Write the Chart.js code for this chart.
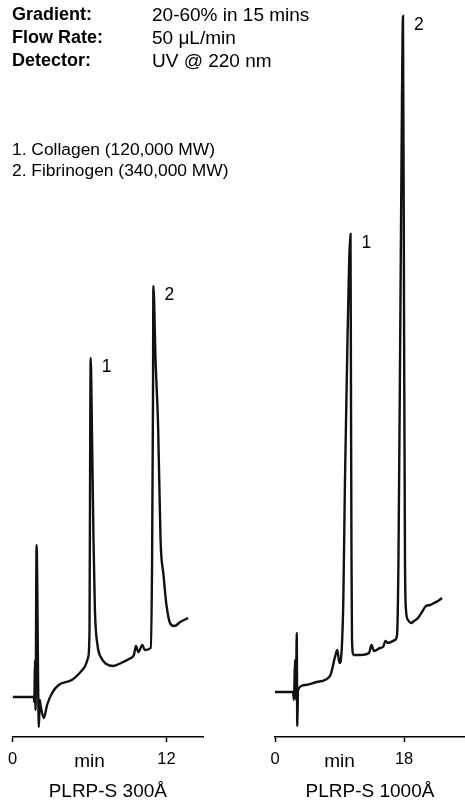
<!DOCTYPE html>
<html>
<head>
<meta charset="utf-8">
<script src="https://cdn.jsdelivr.net/npm/chart.js@4.4.1/dist/chart.umd.min.js"></script>
<style>
  body { margin:0; background:#fff; width:465px; height:801px; overflow:hidden; position:relative;
         font-family:"Liberation Sans", Arial, Helvetica, sans-serif; color:#000; }
  canvas { position:absolute; top:0; }
  #left { left:0; }
  #right { left:232px; }
  .info { position:absolute; line-height:23px; white-space:nowrap; z-index:2; }
  #labels { left:12px; top:3px; font-weight:bold; font-size:18px; }
  #values { left:152px; top:3px; font-size:19px; }
  #compounds { position:absolute; left:12px; top:139px; font-size:17.4px; line-height:21px; white-space:nowrap; z-index:2; }
</style>
</head>
<body>
<div class="info" id="labels">Gradient:<br>Flow Rate:<br>Detector:</div>
<div class="info" id="values">20-60% in 15 mins<br>50 μL/min<br>UV @ 220 nm</div>
<div id="compounds">1. Collagen (120,000 MW)<br>2. Fibrinogen (340,000 MW)</div>
<canvas id="left" width="232" height="801"></canvas>
<canvas id="right" width="233" height="801"></canvas>
<script>
// retention time (min) and detector signal
const leftTime = [0.00, 1.65, 1.69, 1.75, 1.79, 1.87, 2.05, 2.12, 2.19, 2.44, 2.69, 3.08, 3.59, 4.62, 5.23, 5.62, 5.90,
  6.00, 6.05, 6.09, 6.19, 6.31, 6.42, 6.62, 6.92, 7.31, 7.85, 8.46, 9.08, 9.46, 9.62, 9.81, 10.12, 10.31, 10.77,
  10.88, 10.95, 10.98, 11.15, 11.35, 11.54, 11.77, 12.00, 12.31, 12.62, 13.08, 13.69];
const leftSignal = [4.0, 4.0, 3.5, 7.7, 2.7, 19.2, 1.0, 3.7, 3.1, 1.9, 3.2, 4.4, 5.2, 5.7, 6.4, 7.0, 8.0,
  10.7, 28.7, 37.9, 30.7, 19.7, 12.7, 9.2, 7.9, 7.3, 7.1, 7.4, 7.8, 8.2, 9.1, 8.5, 9.2, 8.7, 8.9,
  17.7, 33.7, 45.1, 37.7, 31.0, 19.7, 16.2, 13.2, 11.3, 11.1, 11.5, 11.9];

const rightTime = [0.00, 2.51, 2.65, 2.79, 2.93, 3.03, 3.11, 3.21, 4.18, 5.82, 7.67, 8.37, 8.69, 9.00, 9.30,
  9.53, 9.76, 10.11, 10.53, 10.60, 10.67, 10.74, 10.95, 11.85, 13.11, 13.46, 13.81, 14.64, 15.06, 15.41, 15.76,
  16.74, 17.02, 17.22, 17.50, 17.71, 17.85, 17.99, 18.13, 18.27, 18.55, 18.97, 19.39, 19.94, 20.50, 21.06,
  21.62, 22.18, 22.73, 23.29];
const rightSignal = [4.5, 4.5, 3.7, 7.7, 3.7, 10.4, 1.1, 4.7, 5.2, 5.5, 6.1, 8.0, 8.7, 7.4, 8.7,
  13.7, 25.7, 39.7, 50.3, 33.7, 17.7, 9.7, 8.2, 8.2, 8.4, 9.2, 8.6, 8.9, 9.0, 9.6, 9.4,
  9.7, 10.2, 17.7, 43.7, 63.7, 72.1, 43.7, 17.7, 12.7, 11.7, 11.4, 11.6, 11.9, 12.5, 13.1,
  13.2, 13.4, 13.6, 13.9];

const leftTicks = [0, 6, 12];
const leftTickLabels = ['0', 'min', '12'];
const rightTicks = [0, 9, 18];
const rightTickLabels = ['0', 'min', '18'];

const peakNames = ['1', '2'];
const leftPeakTimes = [6.09, 10.98];
const rightPeakTimes = [10.53, 17.85];

const FONT = '"Liberation Sans", Arial, Helvetica, sans-serif';

// writes the peak number beside the top of each peak
const peakLabels = {
  id: 'peakLabels',
  afterDatasetsDraw(chart, args, opts) {
    const ctx = chart.ctx;
    const pts = chart.data.datasets[0].data;
    const xs = chart.scales.x, ys = chart.scales.y;
    ctx.save();
    ctx.font = '17.5px ' + FONT;
    ctx.fillStyle = '#000';
    ctx.textAlign = 'left';
    ctx.textBaseline = 'alphabetic';
    opts.times.forEach((t, i) => {
      let best = null;
      pts.forEach(p => {
        if (Math.abs(p.x - t) < 0.2 && (!best || p.y > best.y)) best = p;
      });
      if (!best) return;
      ctx.fillText(opts.names[i], xs.getPixelForValue(best.x) + 11, ys.getPixelForValue(best.y) + 13.5);
    });
    ctx.restore();
  }
};

function makeChart(id, times, signal, xMax, ticks, tickLabels, title, peakTimes, padL, padR) {
  const labelFor = v => tickLabels[ticks.indexOf(v)];
  return new Chart(document.getElementById(id), {
    type: 'line',
    data: {
      datasets: [{
        data: times.map((t, i) => ({ x: t, y: signal[i] })),
        borderColor: '#111',
        borderWidth: 2.4,
        pointRadius: 0,
        cubicInterpolationMode: 'monotone',
        fill: false
      }]
    },
    options: {
      responsive: false,
      animation: false,
      layout: { padding: { left: padL, right: padR, top: 0, bottom: 0 } },
      plugins: {
        legend: { display: false },
        tooltip: { enabled: false },
        peakLabels: { times: peakTimes, names: peakNames }
      },
      scales: {
        x: {
          type: 'linear',
          min: 0,
          max: xMax,
          afterBuildTicks: s => { s.ticks = ticks.map(v => ({ value: v })); },
          afterFit: s => { s.height = 64; },
          border: { display: true, color: '#000', width: 1.5 },
          grid: {
            display: true,
            drawOnChartArea: false,
            drawTicks: true,
            tickLength: 5,
            tickWidth: 1.5,
            tickColor: c => (c.tick && labelFor(c.tick.value) === 'min') ? 'rgba(0,0,0,0)' : '#000'
          },
          ticks: {
            color: '#000',
            padding: 8,
            maxRotation: 0,
            autoSkip: false,
            callback: v => labelFor(v),
            font: c => ({ family: FONT, size: (c.tick && labelFor(c.tick.value) === 'min') ? 19 : 16.5 })
          },
          title: {
            display: true,
            text: title,
            color: '#000',
            font: { family: FONT, size: 19, lineHeight: 1 },
            padding: { top: 0, bottom: 0 }
          }
        },
        y: { display: false, min: 0, max: 73.7 }
      }
    },
    plugins: [peakLabels]
  });
}

makeChart('left', leftTime, leftSignal, 14.85, leftTicks, leftTickLabels, 'PLRP-S 300Å', leftPeakTimes, 10, 29);
makeChart('right', rightTime, rightSignal, 26.5, rightTicks, rightTickLabels, 'PLRP-S 1000Å', rightPeakTimes, 43, 0);
</script>
</body>
</html>
